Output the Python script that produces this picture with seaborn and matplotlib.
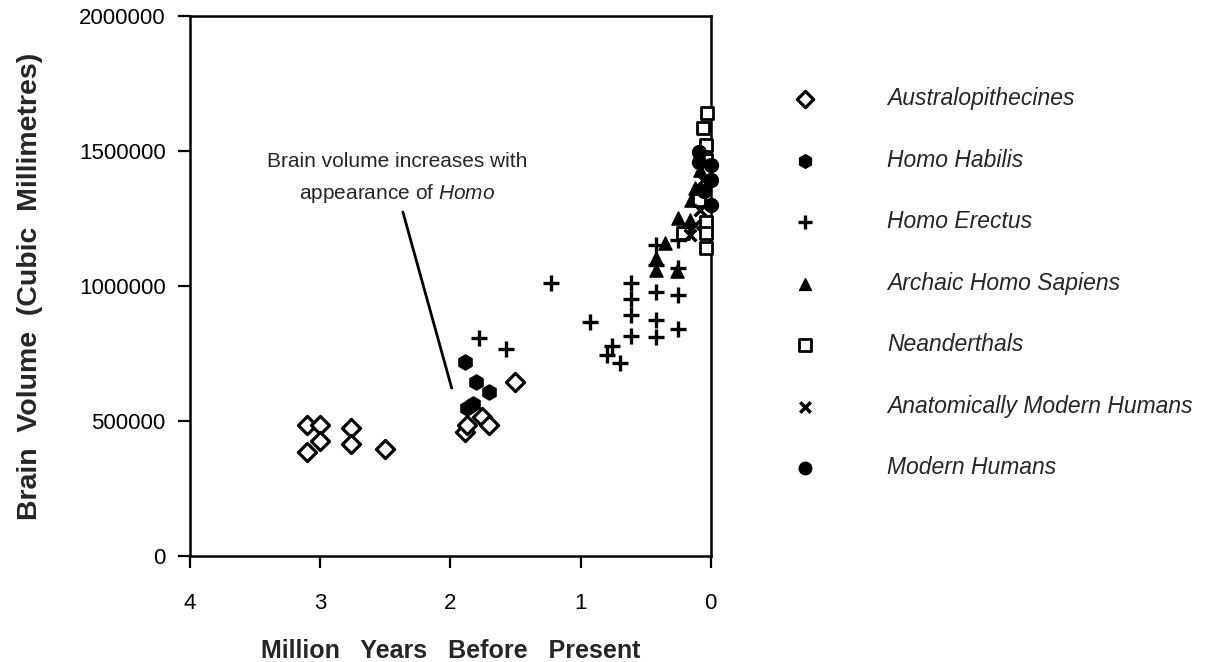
import numpy as np
import pandas as pd
import matplotlib
matplotlib.use("Agg")
import matplotlib.pyplot as plt
import seaborn as sns

# ---------------- data (million years BP, brain volume mm^3) ----------------
australo_t = [3.10, 3.00, 3.00, 3.10, 2.76, 2.76, 2.50, 1.50, 1.89, 1.87, 1.76, 1.70]
australo_v = [485000, 485000, 426000, 385000, 474000, 415000, 396000, 644000,
              459000, 485000, 515000, 485000]

habilis_t = [1.89, 1.80, 1.70, 1.83, 1.87]
habilis_v = [719000, 644000, 607000, 563000, 548000]

erectus_t = [1.78, 1.57, 1.23, 0.93, 0.76, 0.80, 0.70, 0.61, 0.61, 0.61, 0.61,
             0.42, 0.42, 0.42, 0.42, 0.42, 0.25, 0.25, 0.25, 0.25]
erectus_v = [807000, 767000, 1011000, 867000, 778000, 744000, 715000, 1011000,
             952000, 893000, 815000, 978000, 874000, 811000, 1078000, 1152000,
             967000, 841000, 1067000, 1170000]

archaic_t = [0.42, 0.35, 0.25, 0.26, 0.15, 0.12, 0.16, 0.08, 0.42, 0.20]
archaic_v = [1059000, 1159000, 1252000, 1056000, 1319000, 1363000, 1244000,
             1430000, 1104000, 1210000]

neander_t = [0.03, 0.06, 0.04, 0.04, 0.04, 0.04, 0.04, 0.21, 0.09]
neander_v = [1641000, 1585000, 1522000, 1467000, 1237000, 1196000, 1141000,
             1196000, 1319000]

amh_t = [0.12, 0.08, 0.16, 0.06]
amh_v = [1226000, 1281000, 1189000, 1393000]

modern_t = [0.0, 0.0, 0.0, 0.09, 0.09, 0.05]
modern_v = [1448000, 1393000, 1300000, 1496000, 1459000, 1350000]

groups = ["Australopithecines", "Homo Habilis", "Homo Erectus",
          "Archaic Homo Sapiens", "Neanderthals",
          "Anatomically Modern Humans", "Modern Humans"]
times = [australo_t, habilis_t, erectus_t, archaic_t, neander_t, amh_t, modern_t]
volumes = [australo_v, habilis_v, erectus_v, archaic_v, neander_v, amh_v, modern_v]

x_ticks = [4, 3, 2, 1, 0]
y_ticks = [0, 500000, 1000000, 1500000, 2000000]

# annotation: text position and line end points (data coords)
note_xy = (2.41, 1398000)
line_start = (2.365, 1274000)
line_end = (1.99, 622000)

# marker style per group: (marker, size, facecolor, linewidth)
styles = {
    "Australopithecines": ("D", 85, "white", 2.3),
    "Homo Habilis": ("h", 120, "black", 1.0),
    "Homo Erectus": ("+", 120, "black", 2.4),
    "Archaic Homo Sapiens": ("^", 90, "black", 1.0),
    "Neanderthals": ("s", 80, "white", 2.0),
    "Anatomically Modern Humans": ("x", 70, "black", 2.5),
    "Modern Humans": ("o", 100, "black", 1.0),
}

rows = []
for g, ts, vs in zip(groups, times, volumes):
    for t, v in zip(ts, vs):
        rows.append({"group": g, "mya": t, "volume": v})
df = pd.DataFrame(rows)

# ---------------- plot ----------------
sns.set_style("ticks")
plt.rcParams["font.family"] = ["Liberation Sans", "DejaVu Sans"]
plt.rcParams["mathtext.fontset"] = "custom"
plt.rcParams["mathtext.it"] = "Liberation Sans:italic"
plt.rcParams["mathtext.rm"] = "Liberation Sans"

fig = plt.figure(figsize=(12.14, 6.62), dpi=100)
ax = fig.add_axes([0.1565, 0.160, 0.429, 0.816])

for g in groups:
    sub = df[df["group"] == g]
    m, s, fc, lw = styles[g]
    if m in ("+", "x"):
        sns.scatterplot(data=sub, x="mya", y="volume", marker=m, s=s,
                        color="black", linewidth=lw, ax=ax, label=g,
                        zorder=3, clip_on=False)
    else:
        sns.scatterplot(data=sub, x="mya", y="volume", marker=m, s=s,
                        facecolor=fc, edgecolor="black", linewidth=lw,
                        ax=ax, label=g, zorder=3, clip_on=False)

ax.set_xlim(4, 0)
ax.set_ylim(0, 2000000)
ax.set_xticks(x_ticks)
ax.set_yticks(y_ticks)
ax.set_xticklabels([str(t) for t in x_ticks])
ax.set_yticklabels([str(t) for t in y_ticks])
ax.tick_params(axis="both", direction="out", length=8.5, width=1.6,
               labelsize=16, colors="black")
ax.tick_params(axis="x", pad=18)
ax.tick_params(axis="y", pad=9)
for sp in ax.spines.values():
    sp.set_linewidth(1.8)
    sp.set_color("black")

ax.set_xlabel("Million   Years   Before   Present", fontsize=18,
              fontweight="bold", labelpad=18)
ax.set_ylabel("Brain  Volume  (Cubic  Millimetres)", fontsize=20.5,
              fontweight="bold", labelpad=26)

ax.text(note_xy[0], note_xy[1],
        "Brain volume increases with\nappearance of $\\it{Homo}$",
        ha="center", va="center", fontsize=15, linespacing=1.6)
ax.annotate("", xy=line_end, xytext=line_start,
            arrowprops=dict(arrowstyle="-", color="black", lw=2.0,
                            shrinkA=0, shrinkB=0))

handles, labels = ax.get_legend_handles_labels()
ax.legend(handles, labels, loc="upper left", bbox_to_anchor=(1.119, 0.885),
          frameon=False, handletextpad=2.6, labelspacing=1.68,
          prop={"style": "italic", "size": 16.5}, markerscale=0.9,
          borderaxespad=0)

fig.savefig("out.png", dpi=100)
